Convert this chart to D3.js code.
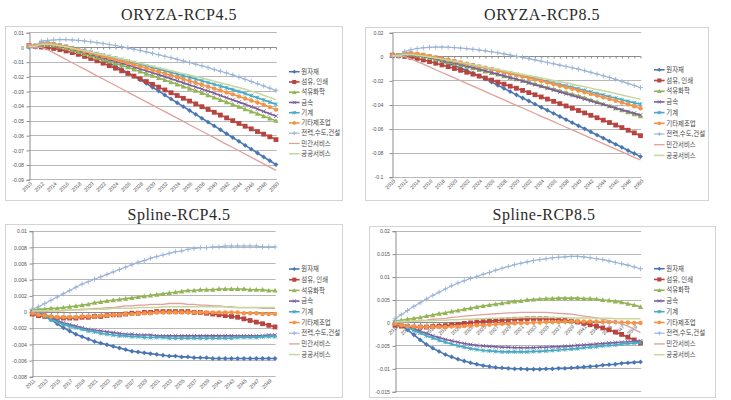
<!DOCTYPE html>
<html><head><meta charset="utf-8">
<script src="https://cdn.jsdelivr.net/npm/d3@7"></script>
<style>body{margin:0;background:#fff}svg{display:block}</style>
</head><body>
<svg id="c" width="731" height="400"></svg>
<script>
// ---------------- DATA ----------------
const seriesNames = ["원자재","섬유, 인쇄","석유화학","금속","기계","기타제조업","전력,수도,건설","민간서비스","공공서비스"];
const yearsOryza = [2010,2011,2012,2013,2014,2015,2016,2017,2018,2019,2020,2021,2022,2023,2024,2025,2026,2027,2028,2029,2030,2031,2032,2033,2034,2035,2036,2037,2038,2039,2040,2041,2042,2043,2044,2045,2046,2047,2048,2049,2050];
const yearsSpline = [2011,2012,2013,2014,2015,2016,2017,2018,2019,2020,2021,2022,2023,2024,2025,2026,2027,2028,2029,2030,2031,2032,2033,2034,2035,2036,2037,2038,2039,2040,2041,2042,2043,2044,2045,2046,2047,2048,2049,2050];
const labelsOryza = ["2010","2012","2014","2016","2018","2020","2022","2024","2026","2028","2030","2032","2034","2036","2038","2040","2042","2044","2046","2048","2050"];
const labelsSpline = ["2011","2013","2015","2017","2019","2021","2023","2025","2027","2029","2031","2033","2035","2037","2039","2041","2043","2045","2047","2049"];

const ticksO45 = [0.01,0,-0.01,-0.02,-0.03,-0.04,-0.05,-0.06,-0.07,-0.08,-0.09];
const tickTextO45 = ["0.01","0","-0.01","-0.02","-0.03","-0.04","-0.05","-0.06","-0.07","-0.08","-0.09"];
const ticksO85 = [0.02,0,-0.02,-0.04,-0.06,-0.08,-0.1];
const tickTextO85 = ["0.02","0","-0.02","-0.04","-0.06","-0.08","-0.1"];
const ticksS45 = [0.01,0.008,0.006,0.004,0.002,0,-0.002,-0.004,-0.006,-0.008];
const tickTextS45 = ["0.01","0.008","0.006","0.004","0.002","0","-0.002","-0.004","-0.006","-0.008"];
const ticksS85 = [0.02,0.015,0.01,0.005,0,-0.005,-0.01,-0.015];
const tickTextS85 = ["0.02","0.015","0.01","0.005","0","-0.005","-0.01","-0.015"];

// ORYZA-RCP4.5 (2010-2050)
const o45_raw  = [0,0.0005,0.002,0.0025,0.002,0.001,0,-0.0012,-0.0025,-0.004,-0.0055,-0.0072,-0.009,-0.011,-0.013,-0.0152,-0.0175,-0.0199,-0.0223,-0.0248,-0.0274,-0.03,-0.0327,-0.0353,-0.0379,-0.0406,-0.0432,-0.0458,-0.0485,-0.0511,-0.0537,-0.0563,-0.059,-0.0616,-0.0642,-0.0669,-0.0695,-0.0721,-0.0748,-0.0774,-0.08];
const o45_tex  = [0.001,0.0005,0,-0.0005,-0.001,-0.0018,-0.0027,-0.0038,-0.005,-0.0064,-0.0078,-0.0094,-0.011,-0.0127,-0.0144,-0.0162,-0.018,-0.0198,-0.0216,-0.0235,-0.0254,-0.0273,-0.0292,-0.0311,-0.033,-0.0349,-0.0368,-0.0387,-0.0406,-0.0425,-0.0444,-0.0463,-0.0482,-0.0501,-0.052,-0.0539,-0.0557,-0.0575,-0.0593,-0.0611,-0.063];
const o45_chem = [0.001,0.0008,0.0015,0.0015,0.001,0.0002,-0.0008,-0.0021,-0.0034,-0.0047,-0.006,-0.0073,-0.0086,-0.0099,-0.0112,-0.0125,-0.0138,-0.0153,-0.0167,-0.0182,-0.0196,-0.0211,-0.0225,-0.024,-0.0254,-0.0269,-0.0283,-0.0298,-0.0312,-0.0328,-0.0344,-0.036,-0.0375,-0.0391,-0.0407,-0.0423,-0.0439,-0.0454,-0.047,-0.0486,-0.0502];
const o45_met  = [0.0005,0.0005,0.002,0.002,0.0015,0.0006,-0.0004,-0.0015,-0.0026,-0.0038,-0.005,-0.0062,-0.0074,-0.0086,-0.0098,-0.011,-0.0123,-0.0136,-0.0149,-0.0162,-0.0175,-0.0188,-0.0202,-0.0216,-0.023,-0.0244,-0.0258,-0.0272,-0.0286,-0.03,-0.0315,-0.033,-0.0345,-0.036,-0.0375,-0.039,-0.0406,-0.0422,-0.0438,-0.0454,-0.047];
const o45_mach = [0.0005,0.0005,0.0025,0.0028,0.0022,0.0014,0.0005,-0.0005,-0.0015,-0.0025,-0.0035,-0.0045,-0.0055,-0.0065,-0.0075,-0.0085,-0.0096,-0.0107,-0.0118,-0.0129,-0.014,-0.0151,-0.0162,-0.0173,-0.0184,-0.0195,-0.0206,-0.0218,-0.023,-0.0242,-0.0254,-0.0266,-0.0278,-0.029,-0.0303,-0.0317,-0.0331,-0.0345,-0.036,-0.0375,-0.039];
const o45_etc  = [0.001,0.001,0.0025,0.0025,0.002,0.0011,0.0002,-0.0008,-0.0019,-0.003,-0.0041,-0.0052,-0.0063,-0.0074,-0.0085,-0.0096,-0.0108,-0.012,-0.0132,-0.0144,-0.0156,-0.0168,-0.018,-0.0192,-0.0205,-0.0218,-0.0231,-0.0244,-0.0257,-0.027,-0.0283,-0.0296,-0.0309,-0.0322,-0.0336,-0.035,-0.0364,-0.0378,-0.0392,-0.0409,-0.0426];
const o45_elec = [0,0.0005,0.004,0.0045,0.0048,0.005,0.005,0.0048,0.0045,0.0041,0.0036,0.003,0.0024,0.0017,0.001,0.0002,-0.0006,-0.0015,-0.0024,-0.0033,-0.0043,-0.0053,-0.0063,-0.0073,-0.0084,-0.0095,-0.0106,-0.0117,-0.0128,-0.0139,-0.0153,-0.0165,-0.0177,-0.019,-0.0205,-0.022,-0.0235,-0.025,-0.0265,-0.028,-0.0295];
const o45_priv = [0,0,-0.0002,-0.0018,-0.004,-0.0062,-0.0085,-0.0107,-0.0129,-0.0151,-0.0173,-0.0196,-0.0218,-0.024,-0.0262,-0.0284,-0.0307,-0.0329,-0.0351,-0.0373,-0.0395,-0.0418,-0.044,-0.0462,-0.0484,-0.0506,-0.0529,-0.0551,-0.0573,-0.0595,-0.0617,-0.064,-0.0662,-0.0684,-0.0706,-0.0728,-0.0751,-0.0773,-0.0795,-0.0817,-0.0839];
const o45_pub  = [0.0005,0.0005,0.0018,0.002,0.0016,0.0009,0.0001,-0.0008,-0.0017,-0.0026,-0.0035,-0.0044,-0.0053,-0.0062,-0.0071,-0.0081,-0.0091,-0.0101,-0.0111,-0.0121,-0.0131,-0.0141,-0.0151,-0.0161,-0.0171,-0.0181,-0.0191,-0.0201,-0.0211,-0.0221,-0.0232,-0.0243,-0.0254,-0.0265,-0.0276,-0.0288,-0.03,-0.0313,-0.0328,-0.0343,-0.0358];

// ORYZA-RCP8.5 (2010-2050)
const o85_raw  = [0,0.0005,0.002,0.002,0.0012,0.0002,-0.001,-0.0024,-0.0041,-0.0059,-0.0078,-0.0097,-0.0117,-0.014,-0.0163,-0.0188,-0.0214,-0.024,-0.0266,-0.0293,-0.032,-0.0346,-0.0371,-0.0397,-0.0423,-0.0448,-0.0474,-0.05,-0.0525,-0.0551,-0.0577,-0.0602,-0.0628,-0.0654,-0.0679,-0.0705,-0.0731,-0.0756,-0.0782,-0.0807,-0.0833];
const o85_tex  = [0.001,0.0005,0,-0.0008,-0.0018,-0.003,-0.0043,-0.0057,-0.0071,-0.0086,-0.0101,-0.0116,-0.0132,-0.0148,-0.0164,-0.018,-0.0197,-0.0214,-0.0231,-0.0248,-0.0265,-0.0283,-0.0301,-0.0319,-0.0337,-0.0355,-0.0374,-0.0393,-0.0412,-0.0431,-0.045,-0.047,-0.049,-0.051,-0.053,-0.055,-0.0571,-0.0592,-0.0614,-0.0636,-0.0659];
const o85_chem = [0.001,0.0008,0.0018,0.0015,0.0008,-0.0002,-0.0013,-0.0025,-0.0037,-0.0049,-0.0061,-0.0073,-0.0086,-0.0099,-0.0112,-0.0125,-0.0138,-0.0151,-0.0164,-0.0177,-0.019,-0.0203,-0.0216,-0.023,-0.0244,-0.0258,-0.0272,-0.0286,-0.03,-0.0314,-0.0328,-0.0345,-0.0362,-0.0379,-0.0396,-0.0413,-0.043,-0.0447,-0.0464,-0.0481,-0.0498];
const o85_met  = [0.0005,0.0005,0.0018,0.0016,0.001,0.0001,-0.0009,-0.002,-0.0031,-0.0043,-0.0055,-0.0067,-0.008,-0.0093,-0.0106,-0.012,-0.0134,-0.0148,-0.0162,-0.0176,-0.019,-0.0205,-0.022,-0.0235,-0.025,-0.0265,-0.028,-0.0295,-0.031,-0.0325,-0.034,-0.0355,-0.037,-0.0385,-0.04,-0.0415,-0.043,-0.0444,-0.0458,-0.0472,-0.0487];
const o85_mach = [0.0005,0.0005,0.0025,0.0025,0.0018,0.001,0,-0.001,-0.002,-0.003,-0.0041,-0.0052,-0.0063,-0.0074,-0.0085,-0.0096,-0.0107,-0.0118,-0.0129,-0.014,-0.0151,-0.0162,-0.0173,-0.0185,-0.0197,-0.0209,-0.0221,-0.0233,-0.0245,-0.0257,-0.027,-0.0283,-0.0296,-0.0309,-0.0322,-0.0335,-0.0348,-0.0361,-0.0374,-0.0386,-0.0398];
const o85_etc  = [0.001,0.001,0.0028,0.0028,0.0022,0.0013,0.0003,-0.0007,-0.0017,-0.0028,-0.0039,-0.005,-0.0061,-0.0072,-0.0083,-0.0095,-0.0107,-0.0119,-0.0131,-0.0143,-0.0155,-0.0167,-0.0179,-0.0192,-0.0205,-0.0218,-0.0231,-0.0244,-0.0257,-0.027,-0.0284,-0.0298,-0.0312,-0.0326,-0.034,-0.0354,-0.0369,-0.0384,-0.0399,-0.0415,-0.0431];
const o85_elec = [0,0.0005,0.004,0.0055,0.0065,0.0071,0.0075,0.0077,0.0077,0.0076,0.0073,0.0069,0.0064,0.0059,0.0053,0.0046,0.0038,0.003,0.0021,0.0011,0.0001,-0.0009,-0.0019,-0.0029,-0.004,-0.0051,-0.0062,-0.0073,-0.0084,-0.0095,-0.0106,-0.0119,-0.0133,-0.0147,-0.0161,-0.0176,-0.0191,-0.0208,-0.0225,-0.0242,-0.026];
const o85_priv = [0,0,-0.0002,-0.002,-0.0043,-0.0065,-0.0088,-0.0111,-0.0134,-0.0156,-0.0179,-0.0202,-0.0225,-0.0247,-0.027,-0.0293,-0.0316,-0.0338,-0.0361,-0.0384,-0.0407,-0.0429,-0.0452,-0.0475,-0.0498,-0.052,-0.0543,-0.0566,-0.0589,-0.0611,-0.0634,-0.0657,-0.068,-0.0702,-0.0725,-0.0748,-0.0771,-0.0793,-0.0816,-0.0839,-0.0861];
const o85_pub  = [0.0005,0.0005,0.0015,0.0015,0.001,0.0003,-0.0005,-0.0014,-0.0023,-0.0032,-0.0041,-0.005,-0.006,-0.007,-0.008,-0.009,-0.01,-0.011,-0.012,-0.013,-0.014,-0.015,-0.016,-0.017,-0.018,-0.019,-0.02,-0.021,-0.022,-0.0231,-0.0242,-0.0253,-0.0264,-0.0275,-0.0286,-0.0297,-0.0309,-0.0321,-0.0333,-0.0345,-0.0357];

// Spline-RCP4.5 (2011-2050)
const s45_raw  = [0,-0.0002,-0.0005,-0.001,-0.0015,-0.002,-0.0024,-0.0028,-0.0031,-0.0034,-0.0037,-0.0039,-0.0041,-0.0043,-0.0045,-0.0047,-0.0049,-0.005,-0.0051,-0.0052,-0.0053,-0.0054,-0.0055,-0.0055,-0.0056,-0.0056,-0.0057,-0.0057,-0.0057,-0.0058,-0.0058,-0.0058,-0.0058,-0.0058,-0.0058,-0.0058,-0.0058,-0.0058,-0.0058,-0.0058];
const s45_tex  = [-0.0003,-0.0005,-0.0006,-0.0007,-0.0008,-0.0008,-0.0008,-0.0008,-0.0007,-0.0007,-0.0006,-0.0006,-0.0005,-0.0004,-0.0004,-0.0003,-0.0002,-0.0002,-0.0001,-0.0001,0,0,0,0,0,0,-0.0001,-0.0001,-0.0002,-0.0003,-0.0004,-0.0005,-0.0006,-0.0007,-0.0009,-0.0011,-0.0013,-0.0015,-0.0017,-0.0019];
const s45_chem = [0.0002,0.0003,0.0003,0.0004,0.0004,0.0005,0.0006,0.0007,0.0008,0.0009,0.0011,0.0012,0.0013,0.0014,0.0015,0.0016,0.0017,0.0018,0.0019,0.002,0.0021,0.0022,0.0023,0.0024,0.0025,0.0026,0.0026,0.0027,0.0027,0.0027,0.0028,0.0028,0.0028,0.0028,0.0028,0.0027,0.0027,0.0027,0.0026,0.0026];
const s45_met  = [0,-0.0002,-0.0004,-0.0008,-0.0011,-0.0014,-0.0016,-0.0018,-0.002,-0.0022,-0.0023,-0.0024,-0.0025,-0.0026,-0.0027,-0.0028,-0.0028,-0.0029,-0.0029,-0.0029,-0.003,-0.003,-0.003,-0.003,-0.003,-0.003,-0.003,-0.003,-0.003,-0.003,-0.003,-0.003,-0.003,-0.003,-0.003,-0.003,-0.003,-0.003,-0.0029,-0.0029];
const s45_mach = [0,-0.0003,-0.0006,-0.001,-0.0013,-0.0016,-0.0018,-0.002,-0.0022,-0.0024,-0.0025,-0.0027,-0.0028,-0.0029,-0.003,-0.003,-0.0031,-0.0031,-0.0032,-0.0032,-0.0032,-0.0032,-0.0033,-0.0033,-0.0033,-0.0033,-0.0033,-0.0033,-0.0033,-0.0033,-0.0033,-0.0033,-0.0033,-0.0032,-0.0032,-0.0032,-0.0032,-0.0031,-0.0031,-0.0031];
const s45_etc  = [-0.0002,-0.0004,-0.0005,-0.0006,-0.0007,-0.0007,-0.0007,-0.0007,-0.0006,-0.0006,-0.0006,-0.0005,-0.0005,-0.0004,-0.0004,-0.0003,-0.0003,-0.0002,-0.0002,-0.0002,-0.0001,-0.0001,-0.0001,-0.0001,-0.0001,-0.0001,-0.0001,-0.0001,-0.0001,-0.0001,-0.0001,-0.0001,-0.0001,-0.0001,-0.0002,-0.0002,-0.0002,-0.0003,-0.0003,-0.0003];
const s45_elec = [0.0003,0.0006,0.001,0.0014,0.0018,0.0022,0.0026,0.003,0.0034,0.0037,0.004,0.0043,0.0046,0.0049,0.0052,0.0055,0.0058,0.0061,0.0063,0.0066,0.0068,0.007,0.0072,0.0074,0.0075,0.0077,0.0078,0.0079,0.0079,0.008,0.008,0.0081,0.0081,0.0081,0.0081,0.0081,0.0081,0.008,0.008,0.008];
const s45_priv = [0,0,0,0.0001,0.0001,0.0001,0.0002,0.0002,0.0003,0.0003,0.0004,0.0004,0.0005,0.0005,0.0006,0.0007,0.0007,0.0008,0.0008,0.0009,0.0009,0.0009,0.001,0.001,0.001,0.0009,0.0009,0.0008,0.0008,0.0007,0.0007,0.0006,0.0006,0.0005,0.0005,0.0005,0.0005,0.0004,0.0004,0.0004];
const s45_pub  = [0.0001,0.0001,0.0001,0.0001,0.0001,0.0002,0.0002,0.0002,0.0002,0.0003,0.0003,0.0003,0.0003,0.0004,0.0004,0.0004,0.0004,0.0005,0.0005,0.0005,0.0005,0.0006,0.0006,0.0006,0.0006,0.0006,0.0006,0.0006,0.0006,0.0006,0.0006,0.0006,0.0005,0.0005,0.0005,0.0005,0.0005,0.0005,0.0005,0.0005];

// Spline-RCP8.5 (2011-2050)
const s85_raw  = [0,-0.0007,-0.0016,-0.0027,-0.0038,-0.0048,-0.0056,-0.0063,-0.007,-0.0075,-0.008,-0.0084,-0.0088,-0.0091,-0.0094,-0.0096,-0.0098,-0.0099,-0.01,-0.0101,-0.0101,-0.0102,-0.0102,-0.0102,-0.0101,-0.0101,-0.01,-0.01,-0.0099,-0.0098,-0.0097,-0.0096,-0.0095,-0.0093,-0.0092,-0.0091,-0.0089,-0.0088,-0.0087,-0.0086];
const s85_tex  = [-0.0006,-0.0008,-0.0009,-0.001,-0.001,-0.001,-0.0009,-0.0008,-0.0007,-0.0005,-0.0004,-0.0002,-0.0001,0.0001,0.0002,0.0003,0.0004,0.0005,0.0006,0.0007,0.0007,0.0008,0.0008,0.0008,0.0008,0.0007,0.0006,0.0005,0.0003,0.0001,-0.0002,-0.0005,-0.0008,-0.0012,-0.0016,-0.0021,-0.0026,-0.0032,-0.0038,-0.0045];
const s85_chem = [0.0003,0.0005,0.0007,0.0009,0.0011,0.0014,0.0016,0.0019,0.0021,0.0024,0.0026,0.0029,0.0031,0.0034,0.0036,0.0038,0.004,0.0042,0.0044,0.0046,0.0047,0.0049,0.005,0.0051,0.0052,0.0052,0.0053,0.0053,0.0053,0.0053,0.0052,0.0052,0.0051,0.0049,0.0048,0.0046,0.0044,0.0041,0.0038,0.0034];
const s85_met  = [0,-0.0004,-0.0009,-0.0014,-0.0019,-0.0024,-0.0029,-0.0033,-0.0037,-0.004,-0.0043,-0.0046,-0.0048,-0.005,-0.0051,-0.0052,-0.0053,-0.0054,-0.0054,-0.0055,-0.0055,-0.0055,-0.0055,-0.0054,-0.0054,-0.0053,-0.0053,-0.0052,-0.0051,-0.005,-0.0049,-0.0048,-0.0047,-0.0046,-0.0045,-0.0044,-0.0043,-0.0042,-0.0041,-0.004];
const s85_mach = [0,-0.0005,-0.0011,-0.0017,-0.0023,-0.0029,-0.0034,-0.0039,-0.0043,-0.0047,-0.0051,-0.0054,-0.0057,-0.0059,-0.0061,-0.0062,-0.0063,-0.0064,-0.0064,-0.0064,-0.0064,-0.0064,-0.0063,-0.0063,-0.0062,-0.0061,-0.006,-0.0059,-0.0058,-0.0057,-0.0055,-0.0054,-0.0053,-0.0051,-0.005,-0.0049,-0.0047,-0.0046,-0.0045,-0.0044];
const s85_etc  = [-0.0003,-0.0006,-0.0008,-0.0009,-0.001,-0.001,-0.001,-0.001,-0.001,-0.0009,-0.0009,-0.0008,-0.0007,-0.0006,-0.0006,-0.0005,-0.0004,-0.0003,-0.0003,-0.0002,-0.0001,-0.0001,0,0,0.0001,0.0001,0.0001,0.0002,0.0002,0.0002,0.0002,0.0002,0.0002,0.0001,0.0001,0.0001,0,0,-0.0001,-0.0001];
const s85_elec = [0.0008,0.0017,0.0026,0.0035,0.0043,0.0051,0.0059,0.0066,0.0073,0.008,0.0086,0.0091,0.0096,0.01,0.0105,0.0109,0.0114,0.0118,0.0122,0.0126,0.0129,0.0132,0.0135,0.0137,0.0139,0.0141,0.0142,0.0143,0.0144,0.0144,0.0143,0.0141,0.0139,0.0137,0.0134,0.0131,0.0128,0.0125,0.0121,0.0117];
const s85_priv = [0,0.0001,0.0002,0.0003,0.0004,0.0005,0.0007,0.0008,0.0009,0.0011,0.0012,0.0014,0.0015,0.0016,0.0017,0.0018,0.0019,0.002,0.0021,0.0021,0.0022,0.0022,0.0022,0.0022,0.0022,0.0021,0.002,0.0019,0.0018,0.0016,0.0014,0.0012,0.001,0.0007,0.0004,0.0001,-0.0003,-0.0008,-0.0015,-0.0022];
const s85_pub  = [0.0002,0.0002,0.0002,0.0003,0.0003,0.0004,0.0004,0.0005,0.0005,0.0006,0.0006,0.0007,0.0007,0.0008,0.0008,0.0009,0.0009,0.001,0.001,0.001,0.0011,0.0011,0.0011,0.0011,0.0011,0.0011,0.0011,0.0011,0.001,0.001,0.001,0.001,0.0009,0.0009,0.0009,0.0008,0.0008,0.0008,0.0008,0.0008];

// ---------------- STYLE ----------------
const colors = ["#4a76b4","#b8433f","#93b556","#7a5e9c","#48a9c3","#f59346","#9ab2d6","#e0a09c","#c6d89e"];
const markers = ["diamond","square","triangle","x","star","circle","plus",null,null];
const widths = [1.6,1.6,1.6,1.6,1.6,1.6,1.1,1.3,1.5];

const panels = [
  {title:"ORYZA-RCP4.5", titleX:179, titleY:20, box:[5,26,342,200], years:yearsOryza, labels:labelsOryza,
   x0:29, x1:276, yTopV:0.01, yBotV:-0.09, yTop:32.3, yBot:179.3, ticks:ticksO45, tickText:tickTextO45, labelGap:5.5,
   data:[o45_raw,o45_tex,o45_chem,o45_met,o45_mach,o45_etc,o45_elec,o45_priv,o45_pub], labelsAtAxis:false,
   legX:289, legY:71.7, legStep:10.25},
  {title:"ORYZA-RCP8.5", titleX:542, titleY:20, box:[365,27,708,200], years:yearsOryza, labels:labelsOryza,
   x0:392.3, x1:640.5, yTopV:0.02, yBotV:-0.1, yTop:32.3, yBot:176.7, ticks:ticksO85, tickText:tickTextO85, labelGap:9,
   data:[o85_raw,o85_tex,o85_chem,o85_met,o85_mach,o85_etc,o85_elec,o85_priv,o85_pub], labelsAtAxis:false,
   legX:654, legY:69.8, legStep:10.7},
  {title:"Spline-RCP4.5", titleX:179, titleY:219.5, box:[5,224,342,397], years:yearsSpline, labels:labelsSpline,
   x0:32.3, x1:275, yTopV:0.01, yBotV:-0.008, yTop:230.7, yBot:376.3, ticks:ticksS45, tickText:tickTextS45, labelGap:5.5,
   data:[s45_raw,s45_tex,s45_chem,s45_met,s45_mach,s45_etc,s45_elec,s45_priv,s45_pub], labelsAtAxis:false,
   legX:289, legY:269, legStep:10.7},
  {title:"Spline-RCP8.5", titleX:544, titleY:219.5, box:[369,226,715,397], years:yearsSpline, labels:labelsSpline,
   x0:395, x1:640.5, yTopV:0.02, yBotV:-0.015, yTop:230.7, yBot:391.3, ticks:ticksS85, tickText:tickTextS85, labelGap:5.5,
   data:[s85_raw,s85_tex,s85_chem,s85_met,s85_mach,s85_etc,s85_elec,s85_priv,s85_pub], labelsAtAxis:true,
   legX:654, legY:268.7, legStep:10.75}
];

const svg = d3.select("#c");
svg.append("rect").attr("width",731).attr("height",400).attr("fill","#fff");

function markerPath(type, s) {
  const h = s/2;
  switch(type){
    case "diamond": return `M0,${-h*1.15}L${h*1.15},0L0,${h*1.15}L${-h*1.15},0Z`;
    case "square": return `M${-h},${-h}H${h}V${h}H${-h}Z`;
    case "triangle": return `M0,${-h*1.1}L${h*1.1},${h*0.85}L${-h*1.1},${h*0.85}Z`;
    case "circle": return d3.symbol(d3.symbolCircle, Math.PI*h*h)();
    case "x": return `M${-h},${-h}L${h},${h}M${-h},${h}L${h},${-h}`;
    case "star": return `M${-h},${-h}L${h},${h}M${-h},${h}L${h},${-h}M0,${-h}V${h}`;
    case "plus": return `M${-h},0H${h}M0,${-h}V${h}`;
  }
  return "";
}
function drawMarker(g, type, color, x, y, s) {
  if (!type) return;
  const p = g.append("path").attr("d", markerPath(type, s)).attr("transform", `translate(${x},${y})`);
  if (type==="x"||type==="star"||type==="plus") p.attr("fill","none").attr("stroke",color).attr("stroke-width",0.9);
  else p.attr("fill",color).attr("stroke","none");
}
const markerSize = {diamond:4.2, square:4.8, triangle:4.8, x:3.8, star:4, circle:4.4, plus:5};

panels.forEach(P => {
  const g = svg.append("g");
  // box
  g.append("rect").attr("x",P.box[0]+0.5).attr("y",P.box[1]+0.5).attr("width",P.box[2]-P.box[0]).attr("height",P.box[3]-P.box[1])
    .attr("fill","#fff").attr("stroke","#d4d4d4").attr("stroke-width",1);
  // title
  g.append("text").attr("x",P.titleX).attr("y",P.titleY).attr("text-anchor","middle")
    .attr("font-family","'Liberation Serif','DejaVu Serif',serif").attr("font-size",16).attr("letter-spacing",0.5)
    .attr("fill","#2a2a2a").text(P.title);

  const x = d3.scalePoint().domain(P.years).range([P.x0, P.x1]);
  const y = d3.scaleLinear().domain([P.yBotV, P.yTopV]).range([P.yBot, P.yTop]);

  // gridlines
  g.append("g").selectAll("line").data(P.ticks).join("line")
    .attr("x1",P.x0).attr("x2",P.x1+0.7).attr("y1",d=>Math.round(y(d))+0.5).attr("y2",d=>Math.round(y(d))+0.5)
    .attr("stroke","#b8b8b8").attr("stroke-width",1);
  // y axis
  const yAxis = d3.axisLeft(y).tickValues(P.ticks).tickSize(3).tickFormat((d,i)=>P.tickText[i]);
  const ya = g.append("g").attr("transform",`translate(${Math.round(P.x0)+0.5},0.5)`).call(yAxis);
  ya.select(".domain").attr("stroke","#8c8c8c");
  ya.selectAll(".tick line").attr("stroke","#8c8c8c");
  ya.selectAll(".tick text").attr("x",-P.labelGap).attr("font-family","'Liberation Sans',Arial,sans-serif").attr("font-size",5.2).attr("fill","#555");

  // x axis at zero
  const y0 = Math.round(y(0))+0.5;
  const xAxis = d3.axisBottom(x).tickSize(2).tickFormat(()=> "");
  const xa = g.append("g").attr("transform",`translate(0,${y0})`).call(xAxis);
  xa.select(".domain").attr("stroke","#8c8c8c").attr("d",`M${P.x0},0H${P.x1}`);
  xa.selectAll(".tick line").attr("stroke","#8c8c8c");

  // x labels (rotated)
  const labY = P.labelsAtAxis ? y0 + 3.5 : P.yBot + 3.5;
  g.append("g").selectAll("text").data(P.labels).join("text")
    .attr("transform", d => `translate(${x(+d)+2},${labY}) rotate(-45)`)
    .attr("text-anchor","end").attr("dy","0.35em")
    .attr("font-family","'Liberation Sans',Arial,sans-serif").attr("font-size",5.2).attr("fill","#555")
    .text(d=>d);

  // series
  const line = d3.line().x((d,i)=>x(P.years[i])).y(d=>y(d));
  P.data.forEach((vals, si) => {
    const sg = g.append("g");
    sg.append("path").attr("d", line(vals)).attr("fill","none").attr("stroke",colors[si]).attr("stroke-width",widths[si]).attr("stroke-linejoin","round");
    if (markers[si]) vals.forEach((v,i)=> drawMarker(sg, markers[si], colors[si], x(P.years[i]), y(v), markerSize[markers[si]]));
  });

  // legend
  const lg = g.append("g");
  seriesNames.forEach((name, si) => {
    const ly = P.legY + si*P.legStep;
    lg.append("line").attr("x1",P.legX).attr("x2",P.legX+10.6).attr("y1",ly).attr("y2",ly).attr("stroke",colors[si]).attr("stroke-width",widths[si]);
    drawMarker(lg, markers[si], colors[si], P.legX+5.3, ly, markerSize[markers[si]]*0.85);
    lg.append("text").attr("x",P.legX+12.3).attr("y",ly).attr("dy","0.35em")
      .attr("font-family","'Noto Sans CJK KR',sans-serif").attr("font-size",6.4).attr("fill","#444").text(name);
  });
});
</script>
</body></html>
